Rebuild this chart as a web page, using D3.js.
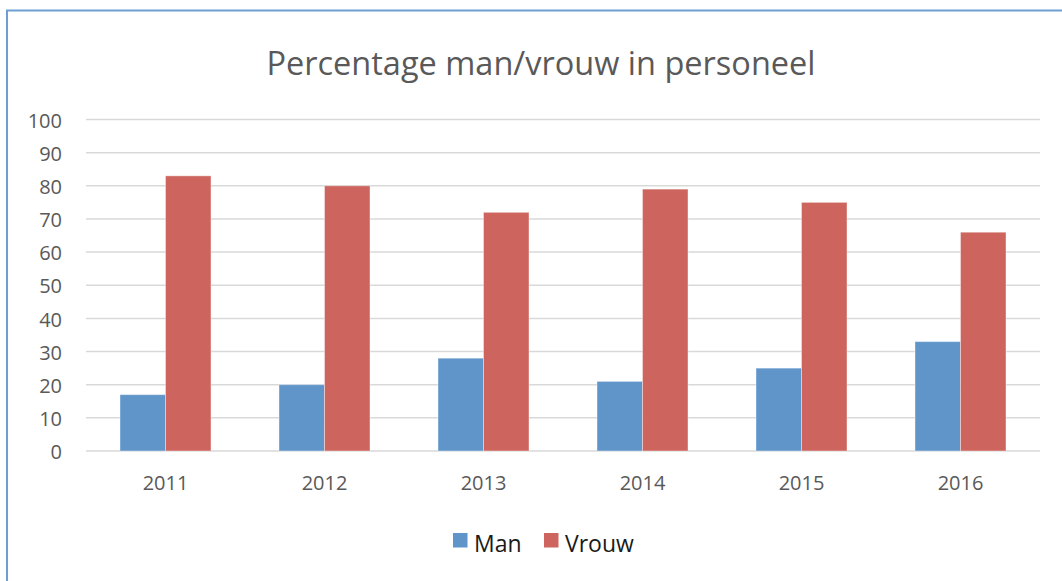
<html>

<head>
    <title> Percentage man/vrouw </title>
    <script src="https://cdn.jsdelivr.net/npm/d3@7"></script>
    <style type="text/css">
        body {
            margin: 0;
            background: #ffffff;
        }

        .axis text {
            font-family: "Open Sans", sans-serif;
            fill: #595959;
        }
    </style>
</head>

<body>
    <script type="text/javascript">
        var years = ["2011", "2012", "2013", "2014", "2015", "2016"];
        var seriesNames = ["Man", "Vrouw"];
        var manValues = [17, 20, 28, 21, 25, 33];
        var vrouwValues = [83, 80, 72, 79, 75, 66];
        var yTicks = [0, 10, 20, 30, 40, 50, 60, 70, 80, 90, 100];
        var colors = ["#5f95c9", "#cd655e"];

        var w = 1062;
        var h = 581;
        var plotLeft = 86,
            plotRight = 1040,
            plotTop = 119.5,
            plotBottom = 451;

        var svg = d3.select("body")
            .append("svg")
            .attr("width", w)
            .attr("height", h);

        // chart frame (runs off the right and bottom of the picture)
        svg.append("rect")
            .attr("x", 7)
            .attr("y", 10.5)
            .attr("width", 1100)
            .attr("height", 620)
            .attr("fill", "none")
            .attr("stroke", "#6d9fd3")
            .attr("stroke-width", 2);

        var x0 = d3.scaleBand()
            .domain(years)
            .range([plotLeft, plotRight]);

        var x1 = d3.scaleBand()
            .domain(seriesNames)
            .range([0, 91])
            .padding(0);

        var yScale = d3.scaleLinear()
            .domain([0, 100])
            .range([plotBottom, plotTop]);

        // gridlines
        svg.append("g")
            .selectAll("line")
            .data(yTicks)
            .enter()
            .append("line")
            .attr("x1", plotLeft)
            .attr("x2", plotRight)
            .attr("y1", function(d) {
                return yScale(d);
            })
            .attr("y2", function(d) {
                return yScale(d);
            })
            .attr("stroke", "#d9d9d9")
            .attr("stroke-width", 1.5);

        // y axis labels
        var yAxis = d3.axisLeft(yScale)
            .tickValues(yTicks)
            .tickSize(0)
            .tickPadding(0);
        var gy = svg.append("g")
            .attr("class", "axis")
            .attr("transform", "translate(62,0)")
            .call(yAxis);
        gy.select(".domain").remove();
        gy.selectAll("text")
            .attr("font-size", "20px")
            .attr("dy", "0.38em");

        // x axis labels
        var xAxis = d3.axisBottom(x0)
            .tickSize(0)
            .tickPadding(0);
        var gx = svg.append("g")
            .attr("class", "axis")
            .attr("transform", "translate(0,474)")
            .call(xAxis);
        gx.select(".domain").remove();
        gx.selectAll("text")
            .attr("font-size", "20px")
            .attr("dy", "0.78em");

        // bars
        var rows = years.map(function(y, i) {
            return {
                year: y,
                values: [manValues[i], vrouwValues[i]]
            };
        });

        var groups = svg.append("g")
            .selectAll("g")
            .data(rows)
            .enter()
            .append("g")
            .attr("transform", function(d) {
                return "translate(" + (x0(d.year) + x0.bandwidth() / 2 - 45.5) + ",0)";
            });

        groups.selectAll("rect")
            .data(function(d) {
                return d.values.map(function(v, j) {
                    return {
                        name: seriesNames[j],
                        value: v,
                        i: j
                    };
                });
            })
            .enter()
            .append("rect")
            .attr("x", function(d) {
                return x1(d.name);
            })
            .attr("y", function(d) {
                return yScale(d.value);
            })
            .attr("width", x1.bandwidth())
            .attr("height", function(d) {
                return yScale(0) - yScale(d.value);
            })
            .attr("fill", function(d) {
                return colors[d.i];
            })
            .attr("stroke", "#ffffff")
            .attr("stroke-opacity", 0.4)
            .attr("stroke-width", 1);

        // title
        svg.append("text")
            .attr("x", 541)
            .attr("y", 75)
            .attr("text-anchor", "middle")
            .attr("font-family", "Open Sans, sans-serif")
            .attr("font-size", "32.5px")
            .attr("fill", "#595959")
            .text("Percentage man/vrouw in personeel");

        // legend
        var legendX = [453, 544];
        var legend = svg.append("g")
            .selectAll("g")
            .data(seriesNames)
            .enter()
            .append("g")
            .attr("transform", function(d, i) {
                return "translate(" + legendX[i] + ",533)";
            });
        legend.append("rect")
            .attr("width", 14.5)
            .attr("height", 14.5)
            .attr("fill", function(d, i) {
                return colors[i];
            });
        legend.append("text")
            .attr("x", 21)
            .attr("y", 18.5)
            .attr("font-family", "Open Sans, sans-serif")
            .attr("font-size", "23px")
            .attr("fill", "#1a1a1a")
            .text(function(d) {
                return d;
            });
    </script>

</body>

</html>
